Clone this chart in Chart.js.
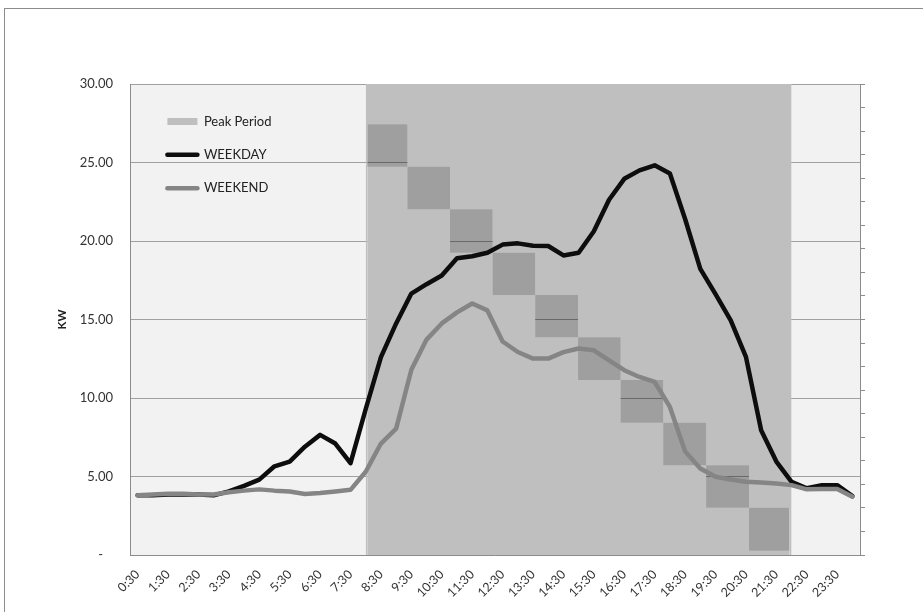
<!DOCTYPE html>
<html>
<head>
<meta charset="utf-8">
<script src="https://cdn.jsdelivr.net/npm/chart.js@4/dist/chart.umd.min.js"></script>
<style>
  html, body { margin: 0; padding: 0; background: #ffffff; }
  #wrap { position: relative; width: 923px; height: 612px; overflow: hidden; }
  #frame { position: absolute; left: 4px; top: 8px; width: 1000px; height: 700px;
           border-left: 1px solid #8c8c8c; border-top: 1px solid #8c8c8c; pointer-events: none; }
  canvas { position: absolute; left: 0; top: 0; }
</style>
</head>
<body>
<div id="wrap">
  <div id="frame"></div>
  <canvas id="c" width="923" height="612"></canvas>
</div>
<script>
// Half-hourly time slots (each slot labelled by its end time)
const slots = ['0:30','1:00','1:30','2:00','2:30','3:00','3:30','4:00','4:30','5:00','5:30','6:00',
               '6:30','7:00','7:30','8:00','8:30','9:00','9:30','10:00','10:30','11:00','11:30','12:00',
               '12:30','13:00','13:30','14:00','14:30','15:00','15:30','16:00','16:30','17:00','17:30','18:00',
               '18:30','19:00','19:30','20:00','20:30','21:00','21:30','22:00','22:30','23:00','23:30','0:00'];

// Average demand (kW)
const weekday = [3.80,3.80,3.85,3.85,3.85,3.80,4.05,4.40,4.80,5.65,5.95,6.90,
                 7.65,7.10,5.85,9.30,12.60,14.75,16.65,17.25,17.80,18.90,19.03,19.25,
                 19.77,19.85,19.70,19.68,19.08,19.25,20.62,22.63,23.96,24.50,24.82,24.30,
                 21.40,18.22,16.62,14.95,12.62,7.95,5.95,4.66,4.25,4.45,4.45,3.75];
const weekend = [3.80,3.85,3.90,3.90,3.85,3.85,4.00,4.10,4.18,4.10,4.05,3.88,
                 3.95,4.05,4.15,5.30,7.10,8.05,11.80,13.72,14.75,15.45,16.02,15.58,
                 13.60,12.93,12.51,12.51,12.92,13.15,13.04,12.40,11.77,11.34,11.02,9.43,
                 6.60,5.51,4.98,4.81,4.66,4.62,4.56,4.45,4.18,4.20,4.20,3.71];

// Peak period window (hours of day)
const peakStart = 8;
const peakEnd = 22;

// Stepped blocks inside the peak window: edges in hours, tops and bottoms in kW
const blockEdges   = [8.05, 9.37, 10.77, 12.17, 13.57, 14.98, 16.38, 17.78, 19.19, 20.60, 21.93];
const blockTops    = [27.43, 24.73, 22.02, 19.25, 16.56, 13.87, 11.15, 8.43, 5.71, 3.01];
const blockBottoms = [24.73, 22.02, 19.25, 16.56, 13.87, 11.15, 8.43, 5.71, 3.01, 0.27];

// Axis ranges
const kwMax = 30;
const kwStep = 5;
const rightTickCount = 20;

// Peak band above the blocks (filled up to the top of the scale)
const bandUpper = [{x: peakStart, y: 0}]
  .concat(blockTops.map((t, k) => ({x: blockEdges[k], y: t})))
  .concat([{x: blockEdges[blockEdges.length - 1], y: 0}, {x: peakEnd, y: 0}]);
// Peak band below the blocks (filled down to zero)
const bandLower = blockBottoms.map((b, k) => ({x: blockEdges[k], y: b}))
  .concat([{x: blockEdges[blockEdges.length - 1], y: blockBottoms[blockBottoms.length - 1]}]);
// Block tops, filled down to bandLower
const blockUpper = blockTops.map((t, k) => ({x: blockEdges[k], y: t}))
  .concat([{x: blockEdges[blockEdges.length - 1], y: blockTops[blockTops.length - 1]}]);

const plotBackground = {
  id: 'plotBackground',
  beforeDraw(chart) {
    const {ctx, chartArea: a} = chart;
    ctx.save();
    ctx.fillStyle = '#f2f2f2';
    ctx.fillRect(a.left, a.top, a.right - a.left, a.bottom - a.top);
    ctx.restore();
  }
};

// Places the legend box a little inside the top-left corner of the plot
const legendInset = {
  id: 'legendInset',
  afterLayout(chart) {
    const lg = chart.legend;
    const a = chart.chartArea;
    const w = lg.width, h = lg.height;
    lg.left = a.left + 17;
    lg.top = a.top + 10.5;
    lg.right = lg.left + w;
    lg.bottom = lg.top + h;
  }
};

Chart.defaults.font.family = 'Lato, "Liberation Sans", sans-serif';
Chart.defaults.color = '#333333';

new Chart(document.getElementById('c'), {
  type: 'line',
  data: {
    labels: slots,
    datasets: [
      {
        label: 'Peak Period',
        data: bandUpper,
        xAxisID: 'xt',
        stepped: true,
        fill: {value: kwMax},
        backgroundColor: '#bfbfbf',
        borderColor: '#bfbfbf',
        borderWidth: 0,
        pointRadius: 0,
        pointStyle: 'rect',
        order: 4
      },
      {
        data: bandLower,
        xAxisID: 'xt',
        stepped: true,
        fill: 'origin',
        backgroundColor: '#bfbfbf',
        borderWidth: 0,
        pointRadius: 0,
        order: 3
      },
      {
        data: blockUpper,
        xAxisID: 'xt',
        stepped: true,
        fill: 1,
        backgroundColor: 'rgba(0,0,0,0.34)',
        borderWidth: 0,
        pointRadius: 0,
        order: 2
      },
      {
        label: 'WEEKDAY',
        data: weekday,
        xAxisID: 'x',
        borderColor: '#0d0d0d',
        backgroundColor: '#0d0d0d',
        borderWidth: 4.5,
        borderCapStyle: 'round',
        borderJoinStyle: 'round',
        tension: 0,
        pointRadius: 0,
        pointStyle: 'line',
        fill: false,
        order: 1
      },
      {
        label: 'WEEKEND',
        data: weekend,
        xAxisID: 'x',
        borderColor: '#858585',
        backgroundColor: '#858585',
        borderWidth: 4.5,
        borderCapStyle: 'round',
        borderJoinStyle: 'round',
        tension: 0,
        pointRadius: 0,
        pointStyle: 'line',
        fill: false,
        order: 0
      }
    ]
  },
  options: {
    responsive: false,
    animation: false,
    events: [],
    layout: { padding: { top: 84, left: 0, right: 0, bottom: 0 } },
    plugins: {
      tooltip: { enabled: false },
      legend: {
        position: 'chartArea',
        align: 'start',
        labels: {
          usePointStyle: true,
          pointStyleWidth: 30,
          boxHeight: 7,
          padding: 20.4,
          color: '#222222',
          font: { size: 13 },
          generateLabels(chart) {
            const items = Chart.defaults.plugins.legend.labels.generateLabels(chart);
            return items.filter(it => it.text).map(it => {
              const ds = chart.data.datasets[it.datasetIndex];
              if (ds.pointStyle === 'line') {
                it.lineWidth = ds.borderWidth;
                it.strokeStyle = ds.borderColor;
                it.lineCap = 'round';
              }
              return it;
            }).sort((a, b) => a.datasetIndex - b.datasetIndex);
          }
        }
      }
    },
    scales: {
      x: {
        type: 'category',
        offset: true,
        grid: { display: false },
        border: { display: true, color: '#8c8c8c', z: 1 },
        ticks: {
          autoSkip: false,
          maxRotation: 45,
          minRotation: 45,
          padding: 4,
          font: { size: 12.5 },
          color: '#333333',
          callback(value, index) {
            return index % 2 === 0 ? this.getLabelForValue(value) : null;
          }
        },
        afterFit(s) { s.height = 57; }
      },
      xt: {
        type: 'linear',
        display: false,
        min: 0.25,
        max: 24.25
      },
      y: {
        position: 'left',
        min: 0,
        max: kwMax,
        ticks: {
          stepSize: kwStep,
          padding: 17,
          font: { size: 13 },
          color: '#333333',
          callback: v => (v === 0 ? '-   ' : v.toFixed(2))
        },
        grid: { color: '#a0a0a0', drawTicks: false },
        border: { display: true, color: '#8c8c8c' },
        title: {
          display: true,
          text: 'KW',
          color: '#222222',
          font: { size: 11.5, weight: 'bold' },
          padding: { top: 55, bottom: 0 }
        },
        afterFit(s) { s.width = 130; }
      },
      y2: {
        position: 'right',
        min: 0,
        max: rightTickCount,
        ticks: { display: false, stepSize: 1 },
        grid: { drawOnChartArea: false, drawTicks: true, tickLength: 5, color: '#8c8c8c' },
        border: { display: true, color: '#8c8c8c', z: 1 },
        afterFit(s) { s.width = 63; }
      }
    }
  },
  plugins: [plotBackground, legendInset]
});
</script>
</body>
</html>
